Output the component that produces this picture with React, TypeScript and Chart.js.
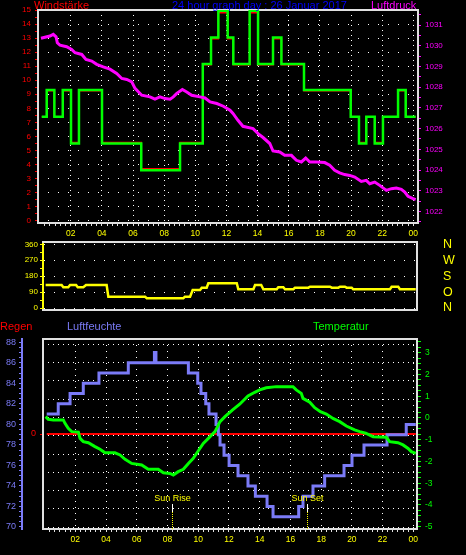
import React, { useEffect, useRef } from 'react';
import { Chart, registerables } from 'chart.js';

Chart.register(...registerables);

const FONT = '"Liberation Sans", Arial, sans-serif';
const RED = '#ff0000';
const GREEN = '#00ff00';
const MAGENTA = '#ff00ff';
const YELLOW = '#ffff00';
const BLUE = '#7b7bf7';
const TITLE_BLUE = '#0000ff';
const FRAME = '#e0e0e0';

// ---------- Panel 1: Windstärke (km/h) + Luftdruck (hPa) ----------
const windTimes = [0.14, 0.46, 0.95, 1.49, 2.02, 2.53, 4.01, 6.53, 9.02, 10.48, 11.01, 11.48, 12.08, 12.44, 13.49, 14.03, 14.99, 15.53, 16.98, 19.98, 20.51, 20.98, 21.52, 22.05, 23.02, 23.51, 24.15];
const gustValues = [7.4, 9.3, 7.4, 9.3, 5.5, 9.3, 5.5, 3.6, 5.5, 11.15, 13.05, 14.95, 13.05, 11.15, 14.95, 11.15, 13.05, 11.15, 9.3, 7.4, 5.5, 7.4, 5.5, 7.4, 9.3, 7.4, 7.4];
const windValues = [7.4, 9.26, 7.4, 9.26, 5.56, 9.26, 5.56, 3.7, 5.56, 11.1, 12.96, 14.8, 12.96, 11.1, 14.8, 11.1, 12.96, 11.1, 9.26, 7.4, 5.56, 7.4, 5.56, 7.4, 9.26, 7.4, 7.4];

const pressTimes = [0.09, 0.67, 0.88, 1.06, 1.14, 1.31, 1.74, 2.06, 2.28, 2.71, 2.98, 3.35, 3.67, 4.09, 4.52, 4.95, 5.28, 5.6, 5.92, 6.13, 6.56, 7.09, 7.41, 7.73, 8.06, 8.38, 8.59, 8.81, 9.17, 9.45, 9.77, 10.3, 10.62, 10.95, 11.38, 11.8, 12.23, 12.42, 12.74, 13.06, 13.71, 14.03, 14.35, 14.78, 14.99, 15.42, 15.74, 16.17, 16.49, 16.81, 17.09, 17.35, 17.77, 18.31, 18.63, 18.95, 19.27, 19.59, 19.92, 20.24, 20.66, 20.98, 21.2, 21.52, 21.84, 22.27, 22.59, 22.91, 23.23, 23.45, 23.66, 23.98, 24.15];
const pressValues = [1030.36, 1030.47, 1030.55, 1030.43, 1030.14, 1030.03, 1029.95, 1029.82, 1029.66, 1029.58, 1029.34, 1029.26, 1029.1, 1028.98, 1028.87, 1028.66, 1028.42, 1028.37, 1028.26, 1027.94, 1027.61, 1027.53, 1027.42, 1027.53, 1027.45, 1027.42, 1027.53, 1027.7, 1027.89, 1027.77, 1027.61, 1027.53, 1027.48, 1027.29, 1027.21, 1027.08, 1026.89, 1026.73, 1026.4, 1026.11, 1026.0, 1025.76, 1025.57, 1025.28, 1024.92, 1024.87, 1024.71, 1024.71, 1024.47, 1024.39, 1024.58, 1024.39, 1024.39, 1024.36, 1024.23, 1023.99, 1023.86, 1023.78, 1023.74, 1023.66, 1023.45, 1023.5, 1023.34, 1023.42, 1023.26, 1023.02, 1023.1, 1023.13, 1023.07, 1022.94, 1022.73, 1022.62, 1022.57];

// ---------- Panel 2: Windrichtung (°) ----------
const dirTimes = [0.07, 1.11, 1.22, 1.54, 1.66, 2.05, 2.16, 2.52, 2.7, 4.04, 4.15, 6.54, 6.65, 9.03, 9.14, 9.47, 9.64, 10.12, 10.23, 10.55, 10.66, 12.51, 12.61, 13.59, 13.7, 14.1, 14.24, 15.11, 15.21, 15.54, 15.65, 16.19, 16.3, 17.17, 17.28, 18.58, 18.69, 19.12, 19.23, 19.55, 19.66, 19.99, 20.09, 22.48, 22.59, 23.02, 23.13, 24.16];
const dirValues = [130, 130, 117, 117, 130, 130, 117, 117, 130, 130, 64, 64, 55, 55, 64, 64, 102, 102, 115, 115, 140, 140, 106, 106, 130, 130, 106, 106, 117, 117, 106, 106, 115, 115, 120, 120, 115, 115, 120, 120, 115, 115, 106, 106, 120, 120, 106, 106];
const dirTickValues = [0, 90, 180, 270, 360];
const dirTickNames = ['N', 'O', 'S', 'W', 'N'];

// ---------- Panel 3: Regen, Luftfeuchte (%), Temperatur (°C) ----------
const humTimes = [0.14, 0.89, 1.66, 2.52, 3.54, 5.45, 7.15, 7.25, 9.36, 9.97, 10.18, 10.49, 10.7, 11.16, 11.31, 11.42, 11.68, 12.01, 12.59, 13.24, 13.72, 14.48, 14.87, 16.54, 16.82, 17.47, 18.23, 19.49, 20.01, 20.79, 22.29, 23.54, 24.16];
const humValues = [81, 82, 83, 84, 85, 86, 87, 86, 85, 84, 83, 82, 81, 80, 79, 78, 77, 76, 75, 74, 73, 72, 71, 72, 73, 74, 75, 76, 77, 78, 79, 80, 80];

const tempTimes = [0.07, 0.24, 0.57, 1.22, 1.33, 1.54, 1.77, 2.2, 2.31, 2.52, 2.85, 3.28, 3.61, 3.93, 4.58, 4.91, 5.24, 5.67, 6.32, 6.75, 7.4, 7.73, 8.16, 8.38, 8.7, 9.03, 9.36, 9.68, 10.01, 10.33, 10.66, 11.09, 11.2, 11.42, 11.74, 12.24, 12.7, 13.24, 13.68, 14.0, 14.43, 15.08, 16.17, 16.38, 16.71, 16.82, 17.26, 17.58, 17.95, 18.34, 18.77, 19.21, 19.64, 20.18, 20.51, 20.9, 21.38, 22.24, 22.46, 23.0, 23.33, 23.66, 23.87, 24.16];
const tempValues = [0.06, -0.06, -0.09, -0.09, -0.25, -0.48, -0.63, -0.65, -0.94, -1.09, -1.14, -1.32, -1.44, -1.6, -1.6, -1.7, -1.9, -2.09, -2.16, -2.36, -2.36, -2.52, -2.55, -2.62, -2.47, -2.36, -2.09, -1.86, -1.51, -1.17, -0.94, -0.63, -0.48, -0.17, 0.06, 0.37, 0.63, 1.01, 1.18, 1.29, 1.39, 1.44, 1.44, 1.29, 1.13, 0.9, 0.72, 0.47, 0.29, 0.18, -0.02, -0.17, -0.37, -0.55, -0.63, -0.7, -0.86, -0.89, -1.09, -1.14, -1.24, -1.4, -1.55, -1.63];

const rainTimes = [0.14, 24.16];
const rainValues = [0, 0];

const sunEvents = [8.31, 17.1];
const sunLabels = ['Sun Rise', 'Sun Set'];

const TITLE = '24 hour graph day : 26 Januar 2017';

// ---------- helpers ----------
const pts = (xs: number[], ys: number[]) => xs.map((x, i) => ({ x, y: ys[i] }));
const range = (a: number, b: number, step: number) => {
  const out: number[] = [];
  for (let i = 0; a + i * step <= b + 1e-9; i++) out.push(+(a + i * step).toFixed(4));
  return out;
};
const isInt = (v: number) => Math.abs(v - Math.round(v)) < 1e-3;
const isEvenHour = (v: any) => typeof v === 'number' && isInt(v) && Math.round(v) % 2 === 0 && Math.round(v) > 0;
const pad2 = (n: number) => (n < 10 ? '0' : '') + n;
const fixSize = (w?: number, h?: number) => (s: any) => {
  if (w !== undefined) s.width = w;
  if (h !== undefined) s.height = h;
  s.paddingLeft = 0; s.paddingRight = 0; s.paddingTop = 0; s.paddingBottom = 0;
};
const setTicks = (vals: number[]) => (s: any) => { s.ticks = vals.map((v) => ({ value: v })); };
const font = (size: number) => ({ size, family: FONT });

const hourAxis = (min: number, max: number, dash: number[]) => ({
  type: 'linear',
  position: 'bottom',
  min,
  max,
  afterBuildTicks: setTicks(range(1 / 3, 24, 1 / 3)),
  afterFit: fixSize(undefined, 20),
  ticks: {
    autoSkip: false, maxRotation: 0, minRotation: 0, color: YELLOW, font: font(8.5), padding: 3,
    callback: (v: number) => (isEvenHour(v) ? pad2(Math.round(v) % 24) : ''),
  },
  grid: {
    color: (ctx: any) => (ctx.tick && isEvenHour(ctx.tick.value) ? '#ffffff' : 'rgba(0,0,0,0)'),
    tickColor: FRAME, tickLength: 3, lineWidth: 1,
  },
  border: { display: false, dash },
});

const framePlugin = {
  id: 'frame',
  beforeDatasetsDraw(chart: any, _a: any, opts: any) {
    const { ctx, chartArea: a } = chart;
    const s = opts.sides || { top: true, right: true, bottom: true, left: true };
    ctx.save();
    ctx.strokeStyle = opts.color || FRAME;
    ctx.lineWidth = 2;
    ctx.beginPath();
    if (s.top) { ctx.moveTo(a.left - 1, a.top); ctx.lineTo(a.right + 1, a.top); }
    if (s.bottom) { ctx.moveTo(a.left - 1, a.bottom); ctx.lineTo(a.right + 1, a.bottom); }
    if (s.left) { ctx.moveTo(a.left, a.top); ctx.lineTo(a.left, a.bottom); }
    if (s.right) { ctx.moveTo(a.right, a.top); ctx.lineTo(a.right, a.bottom); }
    ctx.stroke();
    ctx.restore();
  },
};

const sunPlugin = {
  id: 'sun',
  afterDatasetsDraw(chart: any) {
    const { ctx, chartArea: a, scales } = chart;
    sunEvents.forEach((t, i) => {
      const px = Math.round(scales.x.getPixelForValue(t)) + 0.5;
      ctx.save();
      ctx.strokeStyle = '#ffffff';
      ctx.lineWidth = 1;
      ctx.beginPath(); ctx.moveTo(px, a.bottom - 25); ctx.lineTo(px, a.bottom - 17); ctx.stroke();
      ctx.strokeStyle = YELLOW;
      ctx.setLineDash([1, 1]);
      ctx.beginPath(); ctx.moveTo(px, a.bottom - 17); ctx.lineTo(px, a.bottom); ctx.stroke();
      ctx.setLineDash([]);
      ctx.fillStyle = YELLOW;
      ctx.font = `9px ${FONT}`;
      ctx.textAlign = 'center';
      ctx.textBaseline = 'alphabetic';
      ctx.fillText(sunLabels[i], px, a.bottom - 28.5);
      ctx.restore();
    });
  },
};

const baseOptions = {
  responsive: false,
  animation: false,
  events: [],
  elements: { point: { radius: 0 } },
};

function cfgTop(): any {
  return {
    type: 'line',
    data: {
      datasets: [
        { label: 'Luftdruck', data: pts(pressTimes, pressValues), yAxisID: 'press', borderColor: MAGENTA, borderWidth: 3, pointRadius: 0 },
        { label: 'Böen', data: pts(windTimes, gustValues), yAxisID: 'wind', borderColor: GREEN, borderWidth: 2.5, stepped: true, pointRadius: 0 },
        { label: 'Windstärke', data: pts(windTimes, windValues), yAxisID: 'wind', borderColor: RED, borderWidth: 1.5, stepped: true, pointRadius: 0 },
      ],
    },
    options: {
      ...baseOptions,
      layout: { padding: { left: 8, right: 8, top: 10, bottom: 312 } },
      plugins: { legend: { display: false }, tooltip: { enabled: false }, frame: { color: FRAME } },
      scales: {
        x: hourAxis(-0.1, 24.3, [1, 4]),
        wind: {
          type: 'linear', position: 'left', min: -0.164, max: 15.0,
          afterBuildTicks: setTicks(range(0, 15, 0.5)),
          afterFit: fixSize(30),
          ticks: { autoSkip: false, color: RED, font: font(8), padding: 4, callback: (v: number) => (isInt(v) ? String(Math.round(v)) : '') },
          grid: { color: (ctx: any) => (ctx.tick && isInt(ctx.tick.value) ? '#ffffff' : 'rgba(0,0,0,0)'), tickColor: RED, tickLength: 3, lineWidth: 1 },
          border: { display: false, dash: [1, 9] },
        },
        press: {
          type: 'linear', position: 'right', min: 1021.444, max: 1031.724,
          afterBuildTicks: setTicks(range(1021.5, 1031.5, 0.5)),
          afterFit: fixSize(40),
          ticks: { autoSkip: false, color: MAGENTA, font: font(8), padding: 4, callback: (v: number) => (isInt(v) ? String(Math.round(v)) : '') },
          grid: { drawOnChartArea: false, tickColor: MAGENTA, tickLength: 3 },
          border: { display: false },
        },
      },
    },
    plugins: [framePlugin],
  };
}

function cfgDir(): any {
  return {
    type: 'line',
    data: {
      datasets: [
        { label: 'Windrichtung', data: pts(dirTimes, dirValues), yAxisID: 'dir', borderColor: YELLOW, borderWidth: 2.5, pointRadius: 0 },
      ],
    },
    options: {
      ...baseOptions,
      layout: { padding: { left: 8, right: 8, top: 242, bottom: 245 } },
      plugins: { legend: { display: false }, tooltip: { enabled: false }, frame: { color: FRAME, sides: { top: true, right: true, bottom: true, left: false } } },
      scales: {
        x: { type: 'linear', display: false, min: -0.102, max: 24.24 },
        dir: {
          type: 'linear', position: 'left', min: -11.3, max: 373,
          afterBuildTicks: setTicks(range(0, 360, 45)),
          afterFit: fixSize(35),
          ticks: { autoSkip: false, color: YELLOW, font: font(8), padding: 2, callback: (v: number) => (Math.round(v) % 90 === 0 ? String(Math.round(v)) : '') },
          grid: { color: (ctx: any) => (ctx.tick && Math.round(ctx.tick.value) % 90 === 0 ? '#ffffff' : 'rgba(0,0,0,0)'), tickColor: YELLOW, tickLength: 3, lineWidth: 1 },
          border: { display: true, color: YELLOW, width: 2, dash: [1, 9] },
        },
        card: {
          type: 'linear', position: 'right', min: -11.3, max: 373,
          afterBuildTicks: setTicks(dirTickValues),
          afterFit: fixSize(41),
          ticks: { autoSkip: false, color: YELLOW, font: font(12.5), padding: 18, callback: (v: number) => dirTickNames[dirTickValues.indexOf(Math.round(v))] || '' },
          grid: { display: false },
          border: { display: false },
        },
      },
    },
    plugins: [framePlugin],
  };
}

function cfgBottom(): any {
  return {
    type: 'line',
    data: {
      datasets: [
        { label: 'Temperatur', data: pts(tempTimes, tempValues), yAxisID: 'temp', borderColor: GREEN, borderWidth: 3, pointRadius: 0 },
        { label: 'Luftfeuchte', data: pts(humTimes, humValues), yAxisID: 'hum', borderColor: BLUE, borderWidth: 3, stepped: true, pointRadius: 0 },
        { label: 'Regen', data: pts(rainTimes, rainValues), yAxisID: 'rain', borderColor: RED, borderWidth: 2, pointRadius: 0 },
      ],
    },
    options: {
      ...baseOptions,
      layout: { padding: { left: 0, right: 9, top: 339, bottom: 6 } },
      plugins: { legend: { display: false }, tooltip: { enabled: false }, frame: { color: FRAME } },
      scales: {
        x: hourAxis(-0.102, 24.24, [1, 5]),
        hum: {
          type: 'linear', position: 'left', weight: 10, min: 69.805, max: 88.32,
          afterBuildTicks: setTicks(range(70, 88, 0.5)),
          afterFit: fixSize(22),
          ticks: { autoSkip: false, color: BLUE, font: font(9), padding: 3, callback: (v: number) => (isInt(v) && Math.round(v) % 2 === 0 ? String(Math.round(v)) : '') },
          grid: { drawOnChartArea: false, tickColor: BLUE, tickLength: 3 },
          border: { display: true, color: BLUE, width: 2 },
        },
        rain: {
          type: 'linear', position: 'left', weight: 5, min: -1, max: 1,
          afterBuildTicks: setTicks([0]),
          afterFit: fixSize(21),
          ticks: { autoSkip: false, color: RED, font: font(9), padding: 4, callback: (v: number) => String(Math.round(v)) },
          grid: { drawOnChartArea: false, tickColor: RED, tickLength: 3 },
          border: { display: false },
        },
        g: {
          type: 'linear', position: 'left', weight: 0, min: -0.093, max: 10.29,
          afterBuildTicks: setTicks(range(0, 10, 1)),
          afterFit: fixSize(0),
          ticks: { display: false },
          grid: { color: '#ffffff', drawTicks: false, lineWidth: 1 },
          border: { display: false, dash: [1, 4] },
        },
        temp: {
          type: 'linear', position: 'right', min: -5.106, max: 3.63,
          afterBuildTicks: setTicks(range(-5, 3.5, 0.25)),
          afterFit: fixSize(40),
          ticks: { autoSkip: false, color: GREEN, font: font(8.5), padding: 4, callback: (v: number) => (isInt(v) ? String(Math.round(v)) : '') },
          grid: { drawOnChartArea: false, tickColor: GREEN, tickLength: 4 },
          border: { display: false },
        },
      },
    },
    plugins: [framePlugin, sunPlugin],
  };
}

const label = (text: string, left: number, top: number, color: string) => (
  <span
    style={{
      position: 'absolute', left, top, color, fontFamily: FONT, fontSize: 11,
      lineHeight: '11px', whiteSpace: 'nowrap',
    }}
  >
    {text}
  </span>
);

export default function App() {
  const c1 = useRef<HTMLCanvasElement>(null);
  const c2 = useRef<HTMLCanvasElement>(null);
  const c3 = useRef<HTMLCanvasElement>(null);

  useEffect(() => {
    document.body.style.margin = '0';
    document.body.style.background = '#000';
    const charts = [
      new Chart(c1.current as HTMLCanvasElement, cfgTop()),
      new Chart(c2.current as HTMLCanvasElement, cfgDir()),
      new Chart(c3.current as HTMLCanvasElement, cfgBottom()),
    ];
    return () => charts.forEach((c) => c.destroy());
  }, []);

  const cs: any = { position: 'absolute', left: 0, top: 0, width: 466, height: 555 };
  return (
    <div style={{ position: 'absolute', left: 0, top: 0, width: 466, height: 555, background: '#000', overflow: 'hidden' }}>
      <canvas ref={c1} width={466} height={555} style={cs} />
      <canvas ref={c2} width={466} height={555} style={cs} />
      <canvas ref={c3} width={466} height={555} style={cs} />
      {label('Windstärke', 34, 0, RED)}
      {label(TITLE, 172, 0, TITLE_BLUE)}
      {label('Luftdruck', 371, 0, MAGENTA)}
      {label('Regen', 0, 321, RED)}
      {label('Luftfeuchte', 67, 321, BLUE)}
      {label('Temperatur', 313, 321, GREEN)}
    </div>
  );
}
